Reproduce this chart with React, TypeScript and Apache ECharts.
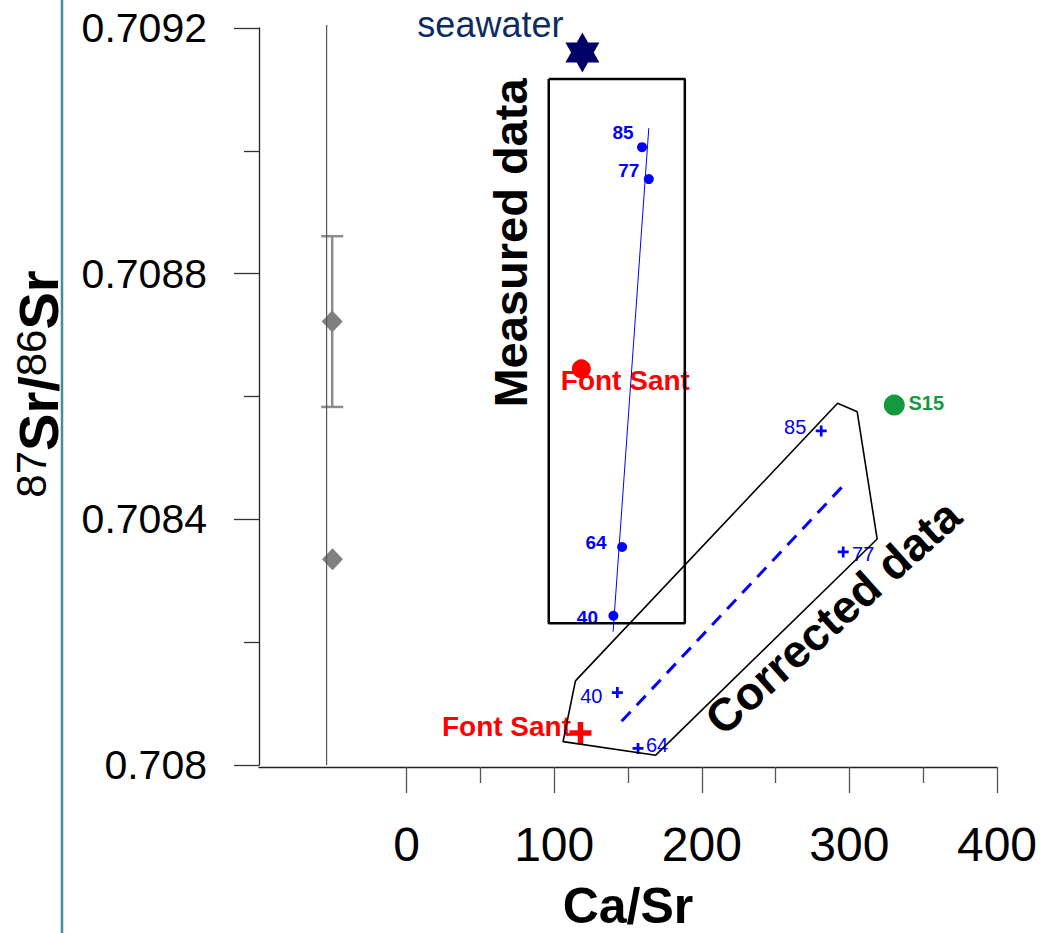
import React, { useEffect, useRef } from "react";
import * as echarts from "echarts";

// ---------- data ----------
const xTickValues = [0, 100, 200, 300, 400];
const xMinorTickValues = [50, 150, 250, 350];

const measuredIds = ["85", "77", "64", "40"];
const measuredCaSr = [159.5, 164.1, 146.0, 140.1];
const measuredSr = [0.709006, 0.708954, 0.708355, 0.708243];

const correctedIds = ["85", "77", "64", "40"];
const correctedCaSr = [280.9, 295.8, 156.8, 142.8];
const correctedSr = [0.708544, 0.708347, 0.708027, 0.708118];

const fontSantMeasured = [118.4, 0.708645];
const fontSantCorrected = [117.8, 0.708052];
const seawater = [119.1, 0.70916];
const s15 = [330.4, 0.708586];

const standardCaSr = [-50.4, -50.2];
const standardSr = [0.708722, 0.708335];
const standardErrLow = [0.708583];
const standardErrHigh = [0.708861];

const referenceLineX = [-54.2, -54.2];
const referenceLineY = [0.708, 0.709205];

const regressionX = [164.1, 139.9];
const regressionY = [0.709037, 0.708217];

const correctedTrendX = [294.7, 142.8];
const correctedTrendY = [0.708452, 0.708064];

const measuredBoxX = [96.3, 188.5, 188.5, 96.3, 96.3];
const measuredBoxY = [0.709117, 0.709117, 0.708231, 0.708231, 0.709117];

const correctedEnvX = [114.4, 106.0, 168.8, 318.8, 305.3, 292.0, 114.4];
const correctedEnvY = [0.708137, 0.708038, 0.708016, 0.708368, 0.708575, 0.708589, 0.708137];

// ---------- styles ----------
const FONT = "'Liberation Sans', Arial, Helvetica, sans-serif";
const BLUE = "#0000ff";
const RED = "#ff0000";
const GREEN = "#149a3c";
const NAVY = "#000066";
const measuredLabelOffsets = [[-19, -15], [-20, -9], [-26, -4], [-26, 2]];
const correctedLabelOffsets = [[-26, -4], [20, 2], [19, -3], [-26, 3]];
const PLUS = "path://M3,0H5V3H8V5H5V8H3V5H0V3H3Z";
const HEXAGRAM =
  "path://M0,-20L5.77,-10L17.32,-10L11.55,0L17.32,10L5.77,10L0,20L-5.77,10L-17.32,10L-11.55,0L-17.32,-10L-5.77,-10Z";

const zip = (xs: number[], ys: number[]) => xs.map((x, i) => [x, ys[i]]);

export default function App() {
  const ref = useRef<HTMLDivElement>(null);
  useEffect(() => {
    if (!ref.current) return;
    const chart = echarts.init(ref.current, null, { renderer: "svg" });
    const lineBase = {
      type: "line",
      symbol: "none",
      showSymbol: false,
      silent: true,
      clip: false,
      animation: false,
    };
    const scatterBase = {
      type: "scatter",
      silent: true,
      clip: false,
    };
    const option: any = {
      animation: false,
      textStyle: { fontFamily: FONT },
      grid: { left: 259, top: 28, width: 738, height: 737, outerBoundsMode: "none", containLabel: false },
      xAxis: [
        {
          type: "value",
          min: -100,
          max: 400,
          offset: 2,
          position: "bottom",
          axisLine: { show: true, onZero: false, lineStyle: { color: "#222", width: 1.3 } },
          axisTick: {
            show: true,
            customValues: xTickValues,
            length: 26,
            lineStyle: { color: "#555", width: 1.3 },
          },
          axisLabel: {
            customValues: xTickValues,
            fontSize: 48,
            margin: 53,
            color: "#000",
            fontFamily: FONT,
          },
          splitLine: { show: false },
          name: "Ca/Sr",
          nameLocation: "middle",
          nameGap: 114,
          nameTextStyle: { fontSize: 50, fontWeight: "bold", color: "#000", fontFamily: FONT },
        },
        {
          type: "value",
          min: -100,
          max: 400,
          offset: 2,
          position: "bottom",
          axisLine: { show: false, onZero: false },
          axisTick: {
            show: true,
            customValues: xMinorTickValues,
            length: 16,
            lineStyle: { color: "#555", width: 1.3 },
          },
          axisLabel: { show: false },
          splitLine: { show: false },
        },
      ],
      yAxis: {
        type: "value",
        min: 0.708,
        max: 0.7092,
        interval: 0.0004,
        position: "left",
        axisLine: { show: true, onZero: false, lineStyle: { color: "#222", width: 1.3 } },
        axisTick: { show: true, length: 25, lineStyle: { color: "#333", width: 1.3 } },
        minorTick: { show: true, splitNumber: 2, length: 15, lineStyle: { color: "#333", width: 1.3 } },
        axisLabel: {
          fontSize: 41,
          margin: 52,
          color: "#000",
          fontFamily: FONT,
          formatter: (v: number) => String(parseFloat(v.toFixed(4))),
        },
        splitLine: { show: false },
        minorSplitLine: { show: false },
      },
      graphic: [
        {
          type: "line",
          shape: { x1: 62, y1: 0, x2: 62, y2: 933 },
          style: { stroke: "#4b8a9b", lineWidth: 2.5 },
          silent: true,
        },
        {
          type: "text",
          x: 38,
          y: 384,
          rotation: Math.PI / 2,
          style: {
            text: "{s|87}{b|Sr/}{s|86}{b|Sr}",
            align: "center",
            verticalAlign: "middle",
            fill: "#000",
            rich: {
              s: { fontSize: 42, fontFamily: FONT, fill: "#000", verticalAlign: "top" },
              b: { fontSize: 56, fontWeight: "bold", fontFamily: FONT, fill: "#000" },
            },
          },
        },
        {
          type: "text",
          x: 510,
          y: 243,
          rotation: Math.PI / 2,
          style: {
            text: "Measured data",
            fontSize: 47,
            fontWeight: "bold",
            fontFamily: FONT,
            fill: "#000",
            align: "center",
            verticalAlign: "middle",
          },
        },
        {
          type: "text",
          x: 833,
          y: 617,
          rotation: (42 * Math.PI) / 180,
          style: {
            text: "Corrected data",
            fontSize: 46,
            fontWeight: "bold",
            fontFamily: FONT,
            fill: "#000",
            align: "center",
            verticalAlign: "middle",
          },
        },
      ],
      series: [
        {
          ...lineBase,
          name: "reference",
          data: zip(referenceLineX, referenceLineY),
          lineStyle: { color: "#555", width: 1.2 },
        },
        {
          type: "custom",
          name: "standard error",
          silent: true,
          data: standardErrLow.map((lo, i) => [standardCaSr[i], lo, standardErrHigh[i]]),
          encode: { x: 0, y: [1, 2] },
          renderItem: (_params: any, api: any) => {
            const x = api.value(0);
            const pLo = api.coord([x, api.value(1)]);
            const pHi = api.coord([x, api.value(2)]);
            const hw = 11;
            const st = { stroke: "#8c8c8c", lineWidth: 2.5 };
            return {
              type: "group",
              children: [
                { type: "line", shape: { x1: pLo[0], y1: pLo[1], x2: pHi[0], y2: pHi[1] }, style: st },
                { type: "line", shape: { x1: pLo[0] - hw, y1: pLo[1], x2: pLo[0] + hw, y2: pLo[1] }, style: st },
                { type: "line", shape: { x1: pHi[0] - hw, y1: pHi[1], x2: pHi[0] + hw, y2: pHi[1] }, style: st },
              ],
            };
          },
        },
        {
          ...scatterBase,
          name: "standards",
          symbol: "diamond",
          symbolSize: [21, 22],
          itemStyle: { color: "#808080", opacity: 1 },
          data: zip(standardCaSr, standardSr),
        },
        {
          ...lineBase,
          name: "measured box",
          data: zip(measuredBoxX, measuredBoxY),
          lineStyle: { color: "#000", width: 2.5 },
        },
        {
          ...lineBase,
          name: "corrected envelope",
          data: zip(correctedEnvX, correctedEnvY),
          lineStyle: { color: "#000", width: 1.6 },
        },
        {
          ...lineBase,
          name: "regression",
          data: zip(regressionX, regressionY),
          lineStyle: { color: BLUE, width: 1 },
        },
        {
          ...lineBase,
          name: "corrected trend",
          data: zip(correctedTrendX, correctedTrendY),
          lineStyle: { color: BLUE, width: 3, type: [13, 9] },
        },
        {
          ...scatterBase,
          name: "measured",
          symbol: "circle",
          symbolSize: 10,
          itemStyle: { color: BLUE, opacity: 1 },
          data: measuredCaSr.map((x, i) => ({
            value: [x, measuredSr[i]],
            name: measuredIds[i],
            label: { offset: measuredLabelOffsets[i] },
          })),
          label: {
            show: true,
            position: "inside",
            formatter: "{b}",
            color: BLUE,
            fontSize: 19,
            fontWeight: "bold",
            fontFamily: FONT,
          },
        },
        {
          ...scatterBase,
          name: "corrected",
          symbol: PLUS,
          symbolSize: 11,
          itemStyle: { color: BLUE, opacity: 1 },
          data: correctedCaSr.map((x, i) => ({
            value: [x, correctedSr[i]],
            name: correctedIds[i],
            label: { offset: correctedLabelOffsets[i] },
          })),
          label: {
            show: true,
            position: "inside",
            formatter: "{b}",
            color: BLUE,
            fontSize: 20,
            fontFamily: FONT,
          },
        },
        {
          ...scatterBase,
          name: "Font Sant measured",
          symbol: "circle",
          symbolSize: 19,
          itemStyle: { color: RED, opacity: 1 },
          data: [{ value: fontSantMeasured, name: "Font Sant" }],
          label: {
            show: true,
            position: "inside",
            offset: [44, 12],
            formatter: "{b}",
            color: RED,
            fontSize: 28,
            fontWeight: "bold",
            fontFamily: FONT,
          },
        },
        {
          ...scatterBase,
          name: "Font Sant corrected",
          symbol: PLUS,
          symbolSize: 22,
          itemStyle: { color: RED, opacity: 1 },
          data: [{ value: fontSantCorrected, name: "Font Sant" }],
          label: {
            show: true,
            position: "inside",
            offset: [-74, -7],
            formatter: "{b}",
            color: RED,
            fontSize: 28,
            fontWeight: "bold",
            fontFamily: FONT,
          },
        },
        {
          ...scatterBase,
          name: "S15",
          symbol: "circle",
          symbolSize: 21,
          itemStyle: { color: GREEN, opacity: 1 },
          data: [{ value: s15, name: "S15" }],
          label: {
            show: true,
            position: "inside",
            offset: [32, -2],
            formatter: "{b}",
            color: GREEN,
            fontSize: 20,
            fontWeight: "bold",
            fontFamily: FONT,
          },
        },
        {
          ...scatterBase,
          name: "seawater",
          symbol: HEXAGRAM,
          symbolSize: [34, 40],
          itemStyle: { color: NAVY, opacity: 1 },
          data: [{ value: seawater, name: "seawater" }],
          label: {
            show: true,
            position: "inside",
            offset: [-92, -28],
            formatter: "{b}",
            color: "#0e2a63",
            fontSize: 36,
            fontFamily: FONT,
          },
        },
      ],
    };
    chart.setOption(option);
    return () => chart.dispose();
  }, []);
  return (
    <div
      ref={ref}
      style={{ position: "absolute", left: 0, top: 0, width: 1040, height: 933, background: "#fff" }}
    />
  );
}
